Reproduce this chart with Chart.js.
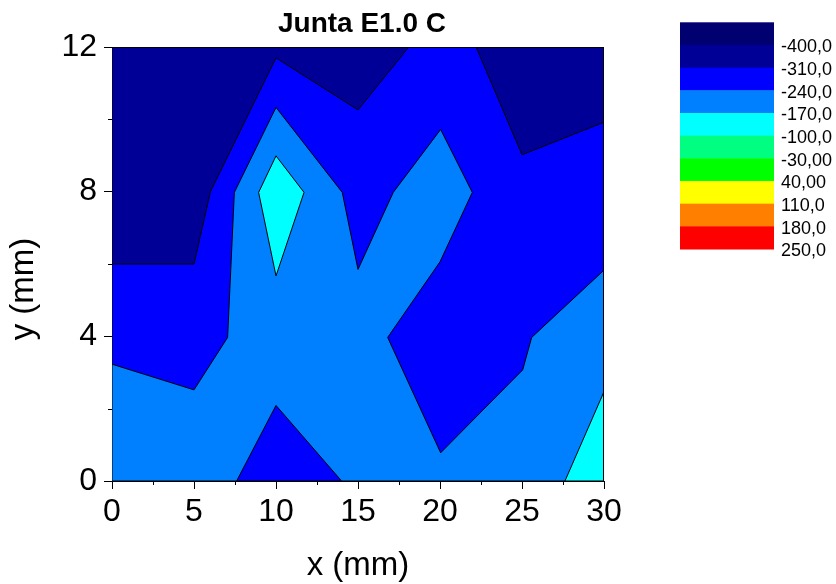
<!DOCTYPE html>
<html>
<head>
<meta charset="utf-8">
<script src="https://cdn.jsdelivr.net/npm/chart.js@4.4.0/dist/chart.umd.min.js"></script>
<style>
  html, body { margin: 0; padding: 0; background: #fff; }
  #c { display: block; }
</style>
</head>
<body>
<canvas id="c" width="836" height="584"></canvas>
<script>
// Colour scale: level labels and band colours (top band first)
const levelLabels = ['-400,0', '-310,0', '-240,0', '-170,0', '-100,0', '-30,00', '40,00', '110,0', '180,0', '250,0'];
const bandColors = ['#000070', '#000096', '#0000FF', '#0080FF', '#00FFFF', '#00FF80', '#00FF00', '#FFFF00', '#FF8000', '#FF0000'];

// Axis ticks (mm)
const xTicks = [0, 5, 10, 15, 20, 25, 30];
const yTicks = [0, 4, 8, 12];
const xMinorTicks = [2.5, 7.5, 12.5, 17.5, 22.5, 27.5];
const yMinorTicks = [2, 6, 10];

// Whole measured field, -400 .. -310 band
const fieldX = [0, 0, 30, 30, 0];
const fieldY = [0, 12, 12, 0, 0];

// Region above -310
const above310X = [0, 0, 5, 6, 10, 15, 18.1, 22.2, 25.0, 30, 30, 0];
const above310Y = [0, 6.0, 6.0, 8, 11.7, 10.26, 12, 12, 9.02, 9.92, 0, 0];

// Region above -240
const above240X = [0, 0, 5, 7.05, 7.46, 10, 14.04, 15, 17.15, 20.04, 21.97, 20.0, 16.81, 20.04, 25.04, 25.59, 30, 30, 14.0, 10, 7.6, 0];
const above240Y = [0, 3.23, 2.52, 3.97, 7.98, 10.33, 7.98, 5.85, 7.98, 9.72, 7.98, 6.06, 3.97, 0.78, 3.07, 3.97, 5.83, 0, 0, 2.09, 0, 0];

// Regions above -170
const above170aX = [10, 11.71, 10, 8.94, 10];
const above170aY = [8.99, 7.98, 5.67, 7.98, 8.99];
const above170bX = [27.62, 30, 30, 27.62];
const above170bY = [0, 2.47, 0, 0];

const FONT = "'Liberation Sans', Arial, sans-serif";

function toPoints(xs, ys) {
  return xs.map((x, i) => ({ x: x, y: ys[i] }));
}

function band(xs, ys, color, order) {
  return {
    data: toPoints(xs, ys),
    showLine: true,
    fill: 'shape',
    backgroundColor: color,
    borderColor: '#000',
    borderWidth: 1,
    pointRadius: 0,
    pointHoverRadius: 0,
    tension: 0,
    order: order
  };
}

// Minor ticks, frame, titles and colour scale
const decorations = {
  id: 'decorations',
  afterDraw(chart) {
    const ctx = chart.ctx;
    const a = chart.chartArea;
    const xs = chart.scales.x, ys = chart.scales.y;
    ctx.save();
    ctx.strokeStyle = '#000';
    ctx.lineWidth = 1;
    // frame
    const l = Math.round(a.left) + 0.5, r = Math.round(a.right) - 0.5;
    const t = Math.round(a.top) + 0.5, b = Math.round(a.bottom) - 0.5;
    ctx.beginPath();
    ctx.moveTo(l, t); ctx.lineTo(r, t); ctx.lineTo(r, b);
    ctx.stroke();
    // minor ticks
    ctx.beginPath();
    xMinorTicks.forEach(v => {
      const px = Math.round(xs.getPixelForValue(v)) + 0.5;
      ctx.moveTo(px, a.bottom); ctx.lineTo(px, a.bottom + 4);
    });
    yMinorTicks.forEach(v => {
      const py = Math.round(ys.getPixelForValue(v)) + 0.5;
      ctx.moveTo(a.left - 4, py); ctx.lineTo(a.left, py);
    });
    ctx.stroke();

    // chart title
    ctx.fillStyle = '#000';
    ctx.font = 'bold 28px ' + FONT;
    ctx.textAlign = 'center';
    ctx.textBaseline = 'alphabetic';
    ctx.fillText('Junta E1.0 C', 362, 32);

    // y axis title
    ctx.save();
    ctx.translate(24, 289);
    ctx.rotate(-Math.PI / 2);
    ctx.font = '33px ' + FONT;
    ctx.textBaseline = 'middle';
    ctx.fillText('y (mm)', 0, 0);
    ctx.restore();

    // colour scale
    const cx0 = 680, cx1 = 774, top = 22.3, h = 22.67;
    bandColors.forEach((c, i) => {
      ctx.fillStyle = c;
      ctx.fillRect(cx0, top + i * h, cx1 - cx0, h + 0.5);
    });
    ctx.fillStyle = '#000';
    ctx.font = '18px ' + FONT;
    ctx.textAlign = 'left';
    ctx.textBaseline = 'middle';
    levelLabels.forEach((s, i) => {
      ctx.fillText(s, 781, top + (i + 1) * h + 2.5);
    });
    ctx.restore();
  }
};

const tickStyle = { display: true, drawOnChartArea: false, drawTicks: true, tickLength: 8, tickColor: '#000', tickWidth: 1 };

new Chart(document.getElementById('c'), {
  type: 'scatter',
  data: {
    datasets: [
      band(above170aX, above170aY, bandColors[4], 1),
      band(above170bX, above170bY, bandColors[4], 1),
      band(above240X, above240Y, bandColors[3], 2),
      band(above310X, above310Y, bandColors[2], 3),
      band(fieldX, fieldY, bandColors[1], 4)
    ]
  },
  options: {
    responsive: false,
    animation: false,
    devicePixelRatio: 1,
    layout: { padding: { top: 47, right: 232, left: 0, bottom: 0 } },
    plugins: {
      legend: { display: false },
      tooltip: { enabled: false },
      filler: { drawTime: 'beforeDatasetDraw' }
    },
    events: [],
    scales: {
      x: {
        type: 'linear',
        min: 0, max: 30,
        afterBuildTicks: s => { s.ticks = xTicks.map(v => ({ value: v })); },
        ticks: { font: { family: FONT, size: 32 }, color: '#000', padding: 4, maxRotation: 0, autoSkip: false },
        grid: tickStyle,
        border: { display: true, color: '#000', width: 1 },
        title: { display: true, text: 'x (mm)', color: '#000', font: { family: FONT, size: 33, lineHeight: 1 }, padding: { top: 0, bottom: 2 } },
        afterFit: s => { s.height = 103; }
      },
      y: {
        type: 'linear',
        min: 0, max: 12,
        afterBuildTicks: s => { s.ticks = yTicks.map(v => ({ value: v })); },
        ticks: { font: { family: FONT, size: 32 }, color: '#000', padding: 7, autoSkip: false },
        grid: tickStyle,
        border: { display: true, color: '#000', width: 1 },
        title: { display: false },
        afterFit: s => { s.width = 112; }
      }
    }
  },
  plugins: [decorations]
});
</script>
</body>
</html>
